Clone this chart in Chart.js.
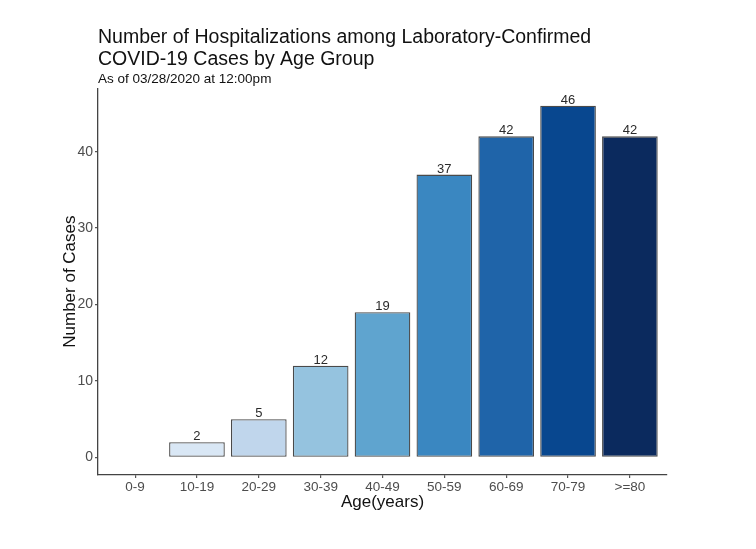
<!DOCTYPE html>
<html>
<head>
<meta charset="utf-8">
<script src="https://cdn.jsdelivr.net/npm/chart.js@4/dist/chart.umd.min.js"></script>
<style>
  html, body { margin: 0; padding: 0; background: #fff; }
  #wrap { width: 756px; height: 549px; }
</style>
</head>
<body>
<div id="wrap"><canvas id="chart"></canvas></div>
<script>
const ageGroups = ['0-9', '10-19', '20-29', '30-39', '40-49', '50-59', '60-69', '70-79', '>=80'];
const hospitalizations = [null, 2, 5, 12, 19, 37, 42, 46, 42];
const barColors = ['#F2F7FC', '#D9E7F5', '#C0D6EC', '#95C3DF', '#5FA4CF', '#3A87C1', '#1F64A9', '#08478F', '#0B2A5E'];
const yTicks = [0, 10, 20, 30, 40];

const FONT = "'Liberation Sans', Arial, sans-serif";

// value labels above each bar
const barLabels = {
  id: 'barLabels',
  afterDatasetsDraw(chart) {
    const ctx = chart.ctx;
    const meta = chart.getDatasetMeta(0);
    ctx.save();
    ctx.font = '13px ' + FONT;
    ctx.fillStyle = '#2a2a2a';
    ctx.textAlign = 'center';
    ctx.textBaseline = 'bottom';
    meta.data.forEach((bar, i) => {
      const v = hospitalizations[i];
      if (v == null) return;
      ctx.fillText(String(v), bar.x, bar.y + 1);
    });
    ctx.restore();
  }
};

new Chart(document.getElementById('chart'), {
  type: 'bar',
  data: {
    datasets: [{
      data: hospitalizations.map((v, i) => ({ x: i, y: v })),
      backgroundColor: barColors,
      borderColor: '#4a4a4a',
      borderWidth: 1.3,
      borderSkipped: false,
      barPercentage: 0.9,
      categoryPercentage: 1.0
    }]
  },
  options: {
    responsive: true,
    maintainAspectRatio: false,
    animation: false,
    layout: { padding: { top: 0, left: 60, right: 89, bottom: 36 } },
    plugins: {
      legend: { display: false },
      tooltip: { enabled: false },
      title: {
        display: true,
        text: ['Number of Hospitalizations among Laboratory-Confirmed', 'COVID-19 Cases by Age Group'],
        align: 'start',
        fullSize: false,
        color: '#111',
        font: { family: FONT, size: 19.5, weight: 'normal', lineHeight: 1.12 },
        padding: { top: 27, bottom: 0 }
      },
      subtitle: {
        display: true,
        text: 'As of 03/28/2020 at 12:00pm',
        align: 'start',
        fullSize: false,
        color: '#111',
        font: { family: FONT, size: 13.5, weight: 'normal', lineHeight: 1.15 },
        padding: { top: 1, bottom: 1 }
      }
    },
    scales: {
      x: {
        type: 'linear',
        offset: false,
        min: -0.6,
        max: ageGroups.length - 1 + 0.6,
        afterFit(scale) { scale.height = 38; },
        afterBuildTicks(scale) { scale.ticks = ageGroups.map((g, i) => ({ value: i })); },
        ticks: {
          autoSkip: false,
          maxRotation: 0,
          padding: 1,
          color: '#4d4d4d',
          font: { family: FONT, size: 13.5 },
          callback: v => ageGroups[v] ?? ''
        },
        grid: { display: true, offset: false, drawOnChartArea: false, tickLength: 3, color: '#555', lineWidth: 1.2 },
        border: { display: true, color: '#444', width: 1.3 },
        title: {
          display: true,
          text: 'Age(years)',
          color: '#111',
          font: { family: FONT, size: 17 },
          padding: { top: 0, bottom: 0 }
        }
      },
      y: {
        min: -2.3,
        max: 48.3,
        afterFit(scale) { scale.width = 38; },
        afterBuildTicks(scale) { scale.ticks = yTicks.map(v => ({ value: v })); },
        ticks: {
          padding: 2,
          color: '#4d4d4d',
          font: { family: FONT, size: 14 }
        },
        grid: { display: true, drawOnChartArea: false, tickLength: 3, color: '#555', lineWidth: 1.2 },
        border: { display: true, color: '#444', width: 1.3 },
        title: {
          display: true,
          text: 'Number of Cases',
          color: '#111',
          font: { family: FONT, size: 17 },
          padding: { top: 0, bottom: 0 }
        }
      }
    }
  },
  plugins: [barLabels]
});
</script>
</body>
</html>
